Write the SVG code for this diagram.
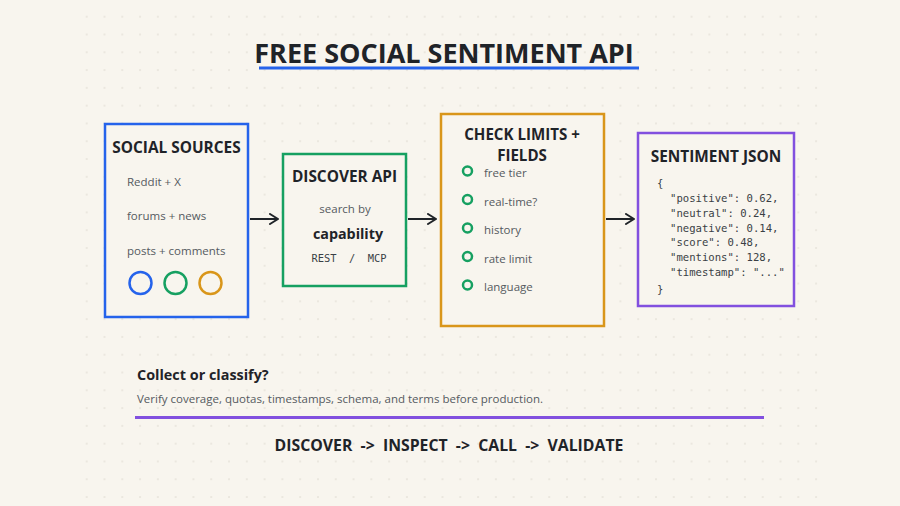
<svg xmlns="http://www.w3.org/2000/svg" width="900" height="506" viewBox="0 0 900 506">
<defs>
<pattern id="dots" x="77.8" y="7.8" width="17.79" height="17.79" patternUnits="userSpaceOnUse">
<rect x="8.2" y="8.2" width="1.4" height="1.4" fill="#dedad0"/>
</pattern>
<marker id="arr" viewBox="0 0 12 12" refX="10" refY="6" markerWidth="12" markerHeight="12" markerUnits="userSpaceOnUse" orient="auto">
<path d="M2,1 L10,6 L2,11" fill="none" stroke="#1f2328" stroke-width="2" stroke-linecap="round" stroke-linejoin="round"/>
</marker>
<style>
.t{font-family:"Open Sans","Noto Sans",sans-serif;font-weight:700;fill:#1f2328}
.h{font-size:15.4px;text-anchor:middle}
.it{font-family:"Open Sans","Noto Sans",sans-serif;font-size:11.5px;fill:#555a60}
.mono{font-family:"DejaVu Sans Mono","Liberation Mono",monospace;fill:#3a3f45}
.box{fill:#f8f5ee;stroke-width:2.5}
.conn{stroke:#1f2328;stroke-width:2;fill:none}
</style>
</defs>
<rect width="900" height="506" fill="#f8f5ee"/>
<rect x="80" y="10" width="745" height="494" fill="url(#dots)"/>

<g id="title">
<text class="t" x="444" y="63" font-size="27" text-anchor="middle">FREE SOCIAL SENTIMENT API</text>
<line x1="259" y1="68" x2="639" y2="68" stroke="#2563eb" stroke-width="3"/>
</g>

<g id="social-sources">
<rect class="box" x="105" y="124" width="143" height="193" stroke="#2563eb"/>
<text class="t h" x="176.5" y="153">SOCIAL SOURCES</text>
<text class="it" x="127" y="186">Reddit + X</text>
<text class="it" x="127" y="220">forums + news</text>
<text class="it" x="127" y="255">posts + comments</text>
<circle cx="140.5" cy="283" r="11" fill="none" stroke="#2563eb" stroke-width="2.5"/>
<circle cx="175.5" cy="283" r="11" fill="none" stroke="#16a061" stroke-width="2.5"/>
<circle cx="210.5" cy="283" r="11" fill="none" stroke="#d9961a" stroke-width="2.5"/>
</g>

<g id="discover-api">
<rect class="box" x="283" y="154" width="123" height="132" stroke="#16a061"/>
<text class="t h" x="344.5" y="182">DISCOVER API</text>
<text class="it" x="345" y="213" font-size="11" text-anchor="middle">search by</text>
<text class="t" x="348" y="239" font-size="14.3" text-anchor="middle">capability</text>
<text class="mono" x="349" y="262" font-size="10.4" text-anchor="middle" xml:space="preserve">REST  /  MCP</text>
</g>

<g id="check-limits">
<rect class="box" x="441" y="114" width="163" height="212" stroke="#d9961a"/>
<text class="t" x="522" y="139.5" font-size="15.1" text-anchor="middle">CHECK LIMITS +</text>
<text class="t" x="522" y="160.5" font-size="15.1" text-anchor="middle">FIELDS</text>
<g fill="none" stroke="#16a061" stroke-width="2.5">
<circle cx="467.5" cy="171" r="4.5"/>
<circle cx="467.5" cy="199.5" r="4.5"/>
<circle cx="467.5" cy="228" r="4.5"/>
<circle cx="467.5" cy="256.5" r="4.5"/>
<circle cx="467.5" cy="285" r="4.5"/>
</g>
<text class="it" x="484" y="177">free tier</text>
<text class="it" x="484" y="205.5">real-time?</text>
<text class="it" x="484" y="233.5">history</text>
<text class="it" x="484" y="262.5">rate limit</text>
<text class="it" x="484" y="290.5">language</text>
</g>

<g id="sentiment-json">
<rect class="box" x="638" y="133" width="156" height="173" stroke="#8250df"/>
<text class="t h" x="716" y="162">SENTIMENT JSON</text>
<g class="mono" font-size="10.6" xml:space="preserve">
<text x="657" y="187">{</text>
<text x="670" y="202">"positive": 0.62,</text>
<text x="670" y="217">"neutral": 0.24,</text>
<text x="670" y="232">"negative": 0.14,</text>
<text x="670" y="246">"score": 0.48,</text>
<text x="670" y="261">"mentions": 128,</text>
<text x="670" y="276">"timestamp": "..."</text>
<text x="657" y="293">}</text>
</g>
</g>

<g id="connectors">
<line class="conn" x1="250" y1="219" x2="278" y2="219" marker-end="url(#arr)"/>
<line class="conn" x1="408" y1="219" x2="436" y2="219" marker-end="url(#arr)"/>
<line class="conn" x1="606" y1="219" x2="634" y2="219" marker-end="url(#arr)"/>
</g>

<g id="footer">
<text class="t" x="137" y="380" font-size="14.4">Collect or classify?</text>
<text class="it" x="137" y="403" font-size="10.45">Verify coverage, quotas, timestamps, schema, and terms before production.</text>
<line x1="135" y1="417.5" x2="764" y2="417.5" stroke="#8250df" stroke-width="3"/>
<text class="t" x="449" y="451" font-size="15.8" text-anchor="middle" xml:space="preserve">DISCOVER  -&gt;  INSPECT  -&gt;  CALL  -&gt;  VALIDATE</text>
</g>
</svg>
